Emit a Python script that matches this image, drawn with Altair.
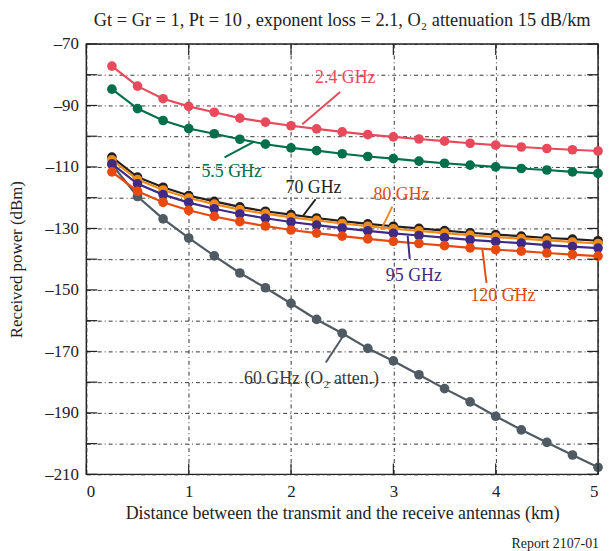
import altair as alt
import pandas as pd

# ---- data ----
dist = [0.25, 0.5, 0.75, 1.0, 1.25, 1.5, 1.75, 2.0, 2.25, 2.5,
        2.75, 3.0, 3.25, 3.5, 3.75, 4.0, 4.25, 4.5, 4.75, 5.0]

p24 = [-77.2, -83.7, -87.8, -90.3, -92.2, -94.1, -95.4, -96.6, -97.6, -98.6,
       -99.5, -100.2, -100.9, -101.6, -102.3, -102.9, -103.5, -104.0, -104.4, -104.8]
p55 = [-84.7, -91.0, -94.9, -97.5, -99.2, -101.0, -102.6, -103.8, -104.7, -105.7,
       -106.6, -107.3, -108.1, -108.8, -109.4, -110.0, -110.5, -111.0, -111.6, -112.1]
p70 = [-106.8, -113.3, -116.6, -119.3, -121.2, -123.0, -124.4, -125.5, -126.6, -127.6,
       -128.5, -129.3, -130.0, -130.7, -131.4, -132.0, -132.5, -133.1, -133.5, -134.0]
p80 = [-107.7, -114.1, -117.5, -120.1, -122.1, -123.9, -125.2, -126.4, -127.4, -128.4,
       -129.3, -130.1, -130.8, -131.5, -132.2, -132.8, -133.3, -133.9, -134.4, -134.9]
p95 = [-109.0, -115.5, -119.0, -121.6, -123.6, -125.3, -126.7, -127.9, -128.9, -129.9,
       -130.8, -131.6, -132.3, -133.0, -133.7, -134.3, -134.8, -135.4, -135.9, -136.4]
p120 = [-111.6, -117.9, -121.5, -124.1, -126.1, -127.8, -129.2, -130.5, -131.5, -132.5,
        -133.4, -134.2, -134.9, -135.6, -136.3, -136.9, -137.4, -138.0, -138.5, -139.0]
p60 = [-109.2, -119.6, -126.9, -133.1, -138.9, -144.5, -149.3, -154.4, -159.6, -164.1,
       -169.0, -173.1, -177.6, -182.1, -186.4, -191.1, -195.5, -199.6, -203.7, -207.7]

series_names = ["60 GHz", "70 GHz", "80 GHz", "95 GHz", "120 GHz", "5.5 GHz", "2.4 GHz"]
series_vals = [p60, p70, p80, p95, p120, p55, p24]
series_colors = ["#4f5a63", "#231f20", "#f08a1c", "#3f2a84", "#e8490f", "#00704a", "#e84a5b"]

# annotation labels (data units)
ann_text = ["2.4 GHz", "5.5 GHz", "70 GHz", "80 GHz", "95 GHz", "120 GHz", "60 GHz (O\u2082 atten.)"]
ann_tx = [2.53, 1.42, 2.22, 3.08, 3.20, 4.07, 2.20]
ann_ty = [-81.2, -111.5, -116.9, -119.1, -145.6, -152.0, -179.0]
ann_color = ["#e84a5b", "#00704a", "#231f20", "#e8490f", "#3f2a84", "#e8490f", "#3a3a3a"]
lead_x1 = [2.48, 1.35, 2.12, 2.99, 3.14, 3.87, 2.51]
lead_y1 = [-85.6, -106.9, -125.8, -122.9, -132.4, -136.9, -165.0]
lead_x2 = [2.11, 1.64, 2.24, 2.88, 3.16, 3.91, 2.34]
lead_y2 = [-96.1, -101.8, -120.5, -130.4, -139.9, -147.7, -173.6]
lead_color = ["#e84a5b", "#00704a", "#231f20", "#f08a1c", "#3f2a84", "#e8490f", "#4f5a63"]

x_ticks = [0, 1, 2, 3, 4, 5]
y_ticks = list(range(-210, -69, 10))

FONT = "Liberation Serif"
W, H = 516, 434

xs = alt.Scale(domain=[0, 5], nice=False)
ys = alt.Scale(domain=[-210, -70], nice=False)

AX = alt.Axis(values=x_ticks, grid=True, ticks=False, domain=False,
              labelFont=FONT, labelFontSize=17, labelPadding=9, labelColor="#222",
              title="Distance between the transmit and the receive antennas (km)",
              titleFont=FONT, titleFontSize=18, titleFontWeight="normal",
              titleColor="#222", titlePadding=6,
              gridColor="#333", gridDash=[4, 3, 1, 3], gridWidth=1, gridOpacity=1)
AY = alt.Axis(values=y_ticks, grid=True, ticks=False, domain=False,
              labelExpr="(datum.value + 70) % 20 == 0 ? '\u2013' + abs(datum.value) : ''",
              labelFont=FONT, labelFontSize=17, labelPadding=8, labelColor="#222",
              title="Received power (dBm)",
              titleFont=FONT, titleFontSize=17, titleFontWeight="normal",
              titleColor="#222", titlePadding=19,
              gridColor="#333", gridDash=[4, 3, 1, 3], gridWidth=1, gridOpacity=1)


def X(f):
    return alt.X(f, scale=xs, axis=AX)


def Y(f):
    return alt.Y(f, scale=ys, axis=AY)


layers = []
for name, vals, col in zip(series_names, series_vals, series_colors):
    df = pd.DataFrame({"d": dist, "p": vals})
    layers.append(alt.Chart(df).mark_line(color=col, strokeWidth=2.2).encode(x=X("d:Q"), y=Y("p:Q")))
    layers.append(alt.Chart(df).mark_circle(color=col, opacity=1, size=95).encode(x=X("d:Q"), y=Y("p:Q")))

# inner tick marks on the frame
ytk = pd.DataFrame({"v": y_ticks})
xtk = pd.DataFrame({"v": x_ticks})
layers.append(alt.Chart(ytk).mark_rule(color="#222", strokeWidth=1.2).encode(
    y=Y("v:Q"), x=alt.value(0), x2=alt.value(11)))
layers.append(alt.Chart(ytk).mark_rule(color="#222", strokeWidth=1.2).encode(
    y=Y("v:Q"), x=alt.value(W - 11), x2=alt.value(W)))
layers.append(alt.Chart(xtk).mark_rule(color="#222", strokeWidth=1.2).encode(
    x=X("v:Q"), y=alt.value(H - 11), y2=alt.value(H)))
layers.append(alt.Chart(xtk).mark_rule(color="#222", strokeWidth=1.2).encode(
    x=X("v:Q"), y=alt.value(0), y2=alt.value(11)))

lead = pd.DataFrame({"x1": lead_x1, "y1": lead_y1, "x2": lead_x2, "y2": lead_y2, "c": lead_color})
layers.append(alt.Chart(lead).mark_rule(strokeWidth=2).encode(
    x=X("x1:Q"), y=Y("y1:Q"), x2="x2:Q", y2="y2:Q", color=alt.Color("c:N", scale=None)))

ann = pd.DataFrame({"x": ann_tx, "y": ann_ty, "t": ann_text, "c": ann_color})
layers.append(alt.Chart(ann).mark_text(font=FONT, fontSize=18, align="center", baseline="middle").encode(
    x=X("x:Q"), y=Y("y:Q"), text="t:N", color=alt.Color("c:N", scale=None)))

rep = pd.DataFrame({"t": ["Report 2107-01"]})
layers.append(alt.Chart(rep).mark_text(font=FONT, fontSize=14, align="right", baseline="middle",
                                       color="#222").encode(
    x=alt.value(W + 1), y=alt.value(H + 70), text="t:N"))

chart = alt.layer(*layers).properties(
    width=W, height=H,
    background="white",
    title=alt.TitleParams(
        "Gt = Gr = 1, Pt = 10 , exponent loss = 2.1, O\u2082 attenuation 15 dB/km",
        font=FONT, fontSize=18.5, fontWeight="normal", color="#222", offset=6, anchor="middle"),
    padding={"left": 0, "top": 0, "right": 0, "bottom": 0},
).configure_view(stroke="#222", strokeWidth=1.5)

chart.save("out.html", embed_options={"renderer": "svg", "actions": False})
